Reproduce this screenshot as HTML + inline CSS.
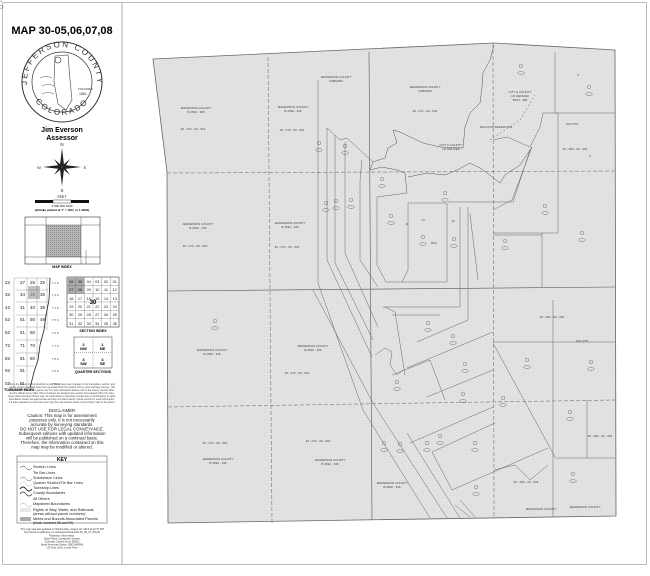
<!DOCTYPE html>
<html><head><meta charset="utf-8"><style>
html,body{margin:0;padding:0;background:#fff;}
body{width:650px;height:571px;overflow:hidden;font-family:"Liberation Sans",sans-serif;}
svg text{font-family:"Liberation Sans",sans-serif;}
</style></head><body>
<svg width="650" height="571" viewBox="0 0 650 571" xmlns="http://www.w3.org/2000/svg">
<defs>
<pattern id="g" width="3" height="3" patternUnits="userSpaceOnUse"><rect width="3" height="3" fill="#e3e3e3"/><path d="M0 0H3M0 0V3" stroke="#d6d6d6" stroke-width="0.4"/></pattern>
<pattern id="h" width="2" height="2" patternUnits="userSpaceOnUse"><rect width="2" height="2" fill="#b8b8b8"/><rect width="1" height="1" fill="#888"/></pattern>
</defs>
<rect x="2.5" y="2.5" width="644" height="562" fill="#fff" stroke="#bbb" stroke-width="1"/>
<line x1="122" y1="3" x2="122" y2="564" stroke="#999" stroke-width="0.8"/>

<!-- LEFT PANEL -->
<text x="62" y="34" font-size="11" font-weight="bold" text-anchor="middle">MAP 30-05,06,07,08</text>
<circle cx="62" cy="82" r="40" fill="#fff" stroke="#333" stroke-width="1"/>
<circle cx="62" cy="82" r="30" fill="#fff" stroke="#333" stroke-width="0.7"/>
<path id="arcT" d="M27,82 A35,35 0 0 1 97,82" fill="none"/>
<text font-size="8" letter-spacing="2" fill="#333"><textPath href="#arcT" startOffset="50%" text-anchor="middle">JEFFERSON COUNTY</textPath></text>
<path id="arcB" d="M30,90 A33,33 0 0 0 94,90" fill="none"/>
<text font-size="8" letter-spacing="2" fill="#333"><textPath href="#arcB" startOffset="50%" text-anchor="middle">COLORADO</textPath></text>
<path d="M55,56 L68,55 L70,80 L72,100 L66,110 L58,104 L54,82 Z" fill="none" stroke="#444" stroke-width="0.6"/>
<circle cx="58" cy="60" r="3" fill="none" stroke="#333" stroke-width="0.6"/>
<path d="M40,78 q6,-3 12,0 M42,86 q6,-3 12,0 M42,94 q6,-3 12,0" fill="none" stroke="#555" stroke-width="0.5"/>
<text x="78" y="90" font-size="3" fill="#333">FOUNDED</text>
<text x="79" y="95" font-size="3.5" fill="#333">1861</text>
<text x="62" y="132" font-size="7" font-weight="bold" text-anchor="middle">Jim Everson</text>
<text x="62" y="140" font-size="7" font-weight="bold" text-anchor="middle">Assessor</text>
<!-- compass -->
<g transform="translate(62,167)" fill="#222">
<polygon points="0,-19 2,-2 0,0 -2,-2"/><polygon points="0,19 2,2 0,0 -2,2"/>
<polygon points="-19,0 -2,2 0,0 -2,-2"/><polygon points="19,0 2,2 0,0 2,-2"/>
<polygon points="8,-8 1,-2 2,1" /><polygon points="-8,8 -1,2 -2,-1"/><polygon points="8,8 2,-1 1,2"/><polygon points="-8,-8 -2,1 -1,-2"/>
<text x="0" y="-21" font-size="4.5" text-anchor="middle">N</text><text x="0" y="25" font-size="4.5" text-anchor="middle">S</text>
<text x="-23" y="2" font-size="4" text-anchor="middle">W</text><text x="23" y="2" font-size="4" text-anchor="middle">E</text>
</g>
<text x="62" y="198" font-size="3.5" text-anchor="middle">FEET</text>
<rect x="35" y="200" width="18" height="3" fill="#111"/><rect x="53" y="200" width="18" height="3" fill="#fff" stroke="#111" stroke-width="0.4"/><rect x="71" y="200" width="18" height="3" fill="#111"/>
<text x="62" y="207" font-size="3" text-anchor="middle">0      600      900      1200</text>
<text x="62" y="211" font-size="3" font-weight="bold" text-anchor="middle">(initially plotted at 1" = 400', or 1:4800)</text>
<!-- map index -->
<rect x="25" y="217" width="75" height="47" fill="#fff" stroke="#333" stroke-width="0.6"/>
<rect x="46" y="225" width="35" height="32" fill="url(#h)"/>
<path d="M25,225H100M25,257H100M46,217V264M81,217V264M86,250V264" stroke="#333" stroke-width="0.4" fill="none"/>
<text x="62" y="268" font-size="3.5" font-weight="bold" text-anchor="middle">MAP INDEX</text>
<!-- township index -->
<g font-size="4.5" fill="#222">
<text x="5" y="284">22</text><text x="5" y="296">32</text><text x="5" y="309">42</text><text x="5" y="321">52</text><text x="5" y="334">62</text><text x="5" y="347">72</text><text x="5" y="360">82</text><text x="5" y="372">92</text><text x="5" y="385">02</text>
<text x="20" y="284">27</text><text x="20" y="296">34</text><text x="20" y="309">41</text><text x="20" y="321">51</text><text x="20" y="334">61</text><text x="20" y="347">71</text><text x="20" y="360">81</text><text x="20" y="372">91</text><text x="20" y="385">01</text>
<text x="30" y="284">26</text><text x="30" y="296">35</text><text x="30" y="309">40</text><text x="30" y="321">50</text><text x="30" y="334">60</text><text x="30" y="347">70</text><text x="30" y="360">80</text>
<text x="40" y="284">25</text><text x="40" y="296">36</text><text x="40" y="309">39</text><text x="40" y="321">49</text>
</g>
<rect x="28" y="286" width="12" height="13" fill="#999" opacity="0.6"/>
<g font-size="2.8" fill="#444"><text x="52" y="284">T 2 S</text><text x="52" y="296">T 3 S</text><text x="52" y="309">T 4 S</text><text x="52" y="321">T 5 S</text><text x="52" y="334">T 6 S</text><text x="52" y="347">T 7 S</text><text x="52" y="360">T 8 S</text><text x="52" y="372">T 9 S</text><text x="52" y="385">T10 S</text></g>
<path d="M14,278V388M14,278H50M16,290H48M16,302H48M16,315H48M16,327H46M16,340H42M16,353H40M16,366H34M27,278V388M37,278V360M47,278V330" stroke="#666" stroke-width="0.3" fill="none"/>
<path d="M50,278 L49,300 L46,315 L44,330 L40,345 L38,360 L34,372 L30,388" stroke="#222" stroke-width="0.8" fill="none"/>
<text x="4" y="391" font-size="3.5" font-weight="bold">TOWNSHIP INDEX</text>
<!-- section index -->
<rect x="67" y="277" width="52" height="50" fill="#fff" stroke="#333" stroke-width="0.6"/>
<rect x="67" y="277" width="17.3" height="16.6" fill="#aaa"/>
<g stroke="#555" stroke-width="0.3"><path d="M75.7,277V327M84.3,277V327M93,277V327M101.7,277V327M110.3,277V327M67,285.3H119M67,293.7H119M67,302H119M67,310.3H119M67,318.7H119"/></g>
<g font-size="3.8" text-anchor="middle" fill="#222">
<text x="71.3" y="283">06</text><text x="80" y="283">05</text><text x="88.7" y="283">04</text><text x="97.3" y="283">03</text><text x="106" y="283">02</text><text x="114.7" y="283">01</text>
<text x="71.3" y="291">07</text><text x="80" y="291">08</text><text x="88.7" y="291">09</text><text x="97.3" y="291">10</text><text x="106" y="291">11</text><text x="114.7" y="291">12</text>
<text x="71.3" y="300">18</text><text x="80" y="300">17</text><text x="88.7" y="300">16</text><text x="97.3" y="300">15</text><text x="106" y="300">14</text><text x="114.7" y="300">13</text>
<text x="71.3" y="308">19</text><text x="80" y="308">20</text><text x="88.7" y="308">21</text><text x="97.3" y="308">22</text><text x="106" y="308">23</text><text x="114.7" y="308">24</text>
<text x="71.3" y="316">30</text><text x="80" y="316">29</text><text x="88.7" y="316">28</text><text x="97.3" y="316">27</text><text x="106" y="316">26</text><text x="114.7" y="316">25</text>
<text x="71.3" y="325">31</text><text x="80" y="325">32</text><text x="88.7" y="325">33</text><text x="97.3" y="325">34</text><text x="106" y="325">35</text><text x="114.7" y="325">36</text>
</g>
<text x="93" y="304" font-size="6" font-weight="bold" text-anchor="middle">30</text>
<text x="93" y="332" font-size="3.5" font-weight="bold" text-anchor="middle">SECTION INDEX</text>
<!-- quarter sections -->
<rect x="74" y="337" width="38" height="31" fill="#fff" stroke="#333" stroke-width="0.5"/>
<path d="M93,337V368M74,352.5H112" stroke="#333" stroke-width="0.4" stroke-dasharray="1,1"/>
<g font-size="4" text-anchor="middle" font-weight="bold"><text x="83.5" y="346">2</text><text x="83.5" y="350">NW</text><text x="102.5" y="346">1</text><text x="102.5" y="350">NE</text><text x="83.5" y="361">3</text><text x="83.5" y="365">SW</text><text x="102.5" y="361">4</text><text x="102.5" y="365">SE</text></g>
<text x="93" y="373" font-size="3.5" font-weight="bold" text-anchor="middle">QUARTER SECTIONS</text>
<g font-size="2.4" fill="#444" text-anchor="middle">
<text x="62" y="385">Since the date of original township survey, there have been changes to the boundaries, section, and</text>
<text x="62" y="388">quarter section lines that have been generated from the original survey notes and later surveys. This</text>
<text x="62" y="391">map should be used as a guide only. For more information please refer to the County records office</text>
<text x="62" y="394">and the official survey plats. Parcel numbers are assigned per section and mapped within the index.</text>
<text x="62" y="397">Some parcel numbers shown may not match those on assessor records due to combinations or splits.</text>
<text x="62" y="400">Boundaries shown are approximate and may not reflect deeds. Check records for exact information.</text>
<text x="62" y="403">If a parcel appears on more than one map, the map number shown is the primary map for the parcel.</text>
</g>
<g font-size="4.3" fill="#222" text-anchor="middle">
<text x="62" y="412">DISCLAIMER</text>
<text x="62" y="417">Caution: This map is for assessment</text>
<text x="62" y="421.5">purposes only. It is not necessarily</text>
<text x="62" y="426">accurate by surveying standards.</text>
<text x="62" y="430.5">DO NOT USE FOR LEGAL CONVEYANCE.</text>
<text x="62" y="435">Subsequent editions with updated information</text>
<text x="62" y="439.5">will be published on a continual basis.</text>
<text x="62" y="444">Therefore, the information contained on this</text>
<text x="62" y="448.5">map may be modified or altered.</text>
</g>
<rect x="17" y="456" width="90" height="67" fill="#fff" stroke="#444" stroke-width="0.5"/>
<line x1="17" y1="462" x2="107" y2="462" stroke="#444" stroke-width="0.4"/>
<text x="62" y="461" font-size="5" font-weight="bold" text-anchor="middle">KEY</text>
<g font-size="3.8" fill="#222">
<text x="33" y="468">Section Lines</text><text x="33" y="474">Tie Bar Lines</text><text x="33" y="479">Subdivision Lines</text><text x="33" y="484">Quarter Section/Tie Bar Lines</text><text x="33" y="489">Township Lines</text><text x="33" y="494">County Boundaries</text><text x="33" y="500">All Others</text><text x="33" y="505">Mapsheet Boundaries</text><text x="33" y="511">Rights of Way, Water, and Railroads</text><text x="33" y="515">(areas without parcel numbers)</text><text x="33" y="520">Metes and Bounds Associated Parcels</text><text x="33" y="524" font-size="3.4">(block numbers 88 and 99)</text>
</g>
<g fill="none" stroke="#333">
<path d="M20,468 q3,-4 6,0 t6,0" stroke-width="0.5"/><path d="M20,479 q3,-4 6,0 t6,0" stroke-width="0.4"/><path d="M20,484 q3,-4 6,0 t6,0" stroke-width="0.3" stroke="#888"/><path d="M20,489 q3,-4 6,0 t6,0" stroke-width="1"/><path d="M20,494 q3,-4 6,0 t6,0" stroke-width="0.7"/><path d="M20,505 q3,-4 6,0 t6,0" stroke-width="0.4" stroke="#888"/>
</g>
<rect x="20" y="508" width="11" height="4" fill="#e8e8e8"/><rect x="20" y="517" width="11" height="4" fill="#aaa"/>
<g font-size="2.6" fill="#333" text-anchor="middle">
<text x="62" y="530">This map was last updated on Wednesday, August 22, 2012 at 02:37 PM</text>
<text x="62" y="533">http://www.co.jefferson.co.us/assessor/maps/30-05_06_07_08.pdf</text>
<text x="62" y="536.5">Projection Information:</text>
<text x="62" y="539.5">State Plane Coordinate System</text>
<text x="62" y="542.5">Colorado Central Zone (0502)</text>
<text x="62" y="545.5">North American Datum 1983 (HARN)</text>
<text x="62" y="548.5">US Foot Units, Linear Feet</text>
</g>

<!-- MAP -->
<path d="M153,59 L494,43 L615,50 L616,516 L168,523 L167,172 Z" fill="url(#g)" stroke="#666" stroke-width="0.8"/>
<g fill="none" stroke="#777" stroke-width="0.6">
<path d="M167,173 L615,171" stroke-dasharray="4,2"/>
<path d="M168,291 L615,287" stroke="#555"/>
<path d="M168,407 L616,400" stroke-dasharray="4,2"/>
<path d="M268,57 L272,523" stroke-dasharray="4,2"/>
<path d="M369,52 L372,520" stroke="#555"/>
<path d="M493,44 L494,517" stroke-dasharray="4,2"/>
</g>
<g fill="none" stroke="#666" stroke-width="0.5">
<!-- right boxes -->
<path d="M555,52 V113 H615"/><path d="M558,113 V233 H493"/><path d="M542,233 V287"/>
<path d="M493,235 H542"/>
<!-- strips -->
<path d="M318,80 V283 L363,410 L430,518"/>
<path d="M327,128 V260 L372,357"/>
<path d="M335,135 V263 L373,340"/>
<path d="M345,142 V253 L378,327"/>
<path d="M360,180 V260 L378,287"/>
<path d="M313,290 L373,403 L447,518"/>
<path d="M407,433 L460,518"/>
<!-- parcels -->
<path d="M407,193 L377,197 V265 L386,282 H447"/>
<path d="M408,203 H447 V282 M402,282 L408,270 L408,203"/>
<path d="M448,202 H513 L530,150"/>
<path d="M460,207 V307 H383"/>
<path d="M468,207 V320 L417,342"/>
<path d="M470,214 L478,280"/>
<path d="M385,307 L395,312 L405,375 M392,315 H440"/>
<path d="M407,368 L493,332"/><path d="M427,397 L493,370"/>
<path d="M392,375 L430,360 L445,400"/>
<path d="M410,443 L493,407"/><path d="M432,452 L495,423"/><path d="M452,490 L548,448"/>
<path d="M432,452 L452,490"/>
<path d="M493,343 L555,457"/><path d="M553,342 V516"/><path d="M493,342 H615"/>
<path d="M587,400 V458 M555,458 H615"/>
<path d="M494,470 L515,465 L530,480 L548,465"/>
<path d="M455,505 L470,517 M460,500 L475,517"/>
<path d="M532,147 L512,200 L493,210"/>
<path d="M553,300 V342"/>
<!-- shoreline -->
<path d="M494,45 L490,60 L483,73 L482,87 L480,103 L470,113 L465,127 L463,148 L440,147 L423,143 L400,132 L393,130 L397,143 L388,148 L385,158 L373,162 L370,170 L382,167 L397,170 L405,173 L407,193" stroke="#555"/>
<path d="M408,177 L427,173 L445,175 L457,170 L470,163 L480,168 L487,173 L500,183 L505,175 L520,165 L532,147" stroke="#555"/>
<path d="M327,128 L340,140 L347,138 L362,152 L373,162 M362,160 L360,180"/>
<path d="M493,140 L507,137 L530,147 L540,127 L543,113 L558,113"/>
<path d="M490,140 L520,120 L535,95" stroke-dasharray="2,2"/>
<path d="M375,355 L385,348 L392,352 L390,365 L397,375 L403,370"/>
</g>
<!-- markers -->
<g fill="none" stroke="#555" stroke-width="0.4">
<g id="m"><circle cx="0" cy="0" r="1.8"/><ellipse cx="0" cy="7" rx="3.3" ry="1.5"/></g>
<use href="#m" x="521" y="66"/><use href="#m" x="589" y="87"/><use href="#m" x="319" y="143"/><use href="#m" x="345" y="146"/>
<use href="#m" x="382" y="179"/><use href="#m" x="326" y="203"/><use href="#m" x="336" y="201"/><use href="#m" x="351" y="200"/>
<use href="#m" x="391" y="216"/><use href="#m" x="423" y="237"/><use href="#m" x="454" y="239"/><use href="#m" x="505" y="241"/>
<use href="#m" x="545" y="206"/><use href="#m" x="582" y="233"/><use href="#m" x="445" y="193"/><use href="#m" x="215" y="321"/>
<use href="#m" x="428" y="323"/><use href="#m" x="453" y="336"/><use href="#m" x="397" y="382"/><use href="#m" x="465" y="364"/>
<use href="#m" x="463" y="394"/><use href="#m" x="440" y="436"/><use href="#m" x="427" y="443"/><use href="#m" x="384" y="443"/>
<use href="#m" x="400" y="444"/><use href="#m" x="475" y="443"/><use href="#m" x="527" y="360"/><use href="#m" x="570" y="412"/>
<use href="#m" x="591" y="362"/><use href="#m" x="573" y="474"/><use href="#m" x="476" y="487"/><use href="#m" x="503" y="398"/>
</g>
<g font-size="3" fill="#444" text-anchor="middle">
<text x="196" y="109">JEFFERSON COUNTY</text><text x="196" y="113">B 2692 - 336</text><text x="193" y="130">36 - 072 - 00 - 001</text>
<text x="293" y="108">JEFFERSON COUNTY</text><text x="293" y="112">B 2692 - 336</text><text x="292" y="131">36 - 072 - 00 - 001</text>
<text x="336" y="78">JEFFERSON COUNTY</text><text x="336" y="82">F0802000</text>
<text x="425" y="88">JEFFERSON COUNTY</text><text x="425" y="92">F0802000</text><text x="425" y="112">30 - 071 - 00 - 002</text>
<text x="520" y="93">CITY &amp; COUNTY</text><text x="520" y="97">OF DENVER</text><text x="520" y="101">B404 - 300</text>
<text x="496" y="128">RALSTON     RESERVOIR</text>
<text x="198" y="225">JEFFERSON COUNTY</text><text x="198" y="229">B 2692 - 336</text><text x="195" y="247">36 - 072 - 00 - 001</text>
<text x="290" y="224">JEFFERSON COUNTY</text><text x="290" y="228">B 2692 - 336</text><text x="287" y="248">36 - 072 - 00 - 001</text>
<text x="212" y="351">JEFFERSON COUNTY</text><text x="212" y="355">B 2692 - 336</text>
<text x="313" y="347">JEFFERSON COUNTY</text><text x="313" y="351">B 2692 - 336</text><text x="297" y="374">36 - 072 - 00 - 001</text>
<text x="215" y="444">36 - 072 - 00 - 001</text><text x="218" y="460">JEFFERSON COUNTY</text><text x="218" y="464">B 2692 - 336</text>
<text x="318" y="442">36 - 072 - 00 - 001</text><text x="330" y="461">JEFFERSON COUNTY</text><text x="330" y="465">B 2692 - 336</text>
<text x="392" y="484">JEFFERSON COUNTY</text><text x="392" y="488">B 2692 - 336</text>
<text x="451" y="146">CITY &amp; COUNTY</text><text x="451" y="150">OF DENVER</text>
<text x="552" y="318">30 - 284 - 00 - 002</text><text x="572" y="125">SOL PTS</text><text x="575" y="150">30 - 084 - 00 - 002</text>
<text x="600" y="437">30 - 081 - 00 - 001</text><text x="526" y="483">30 - 284 - 00 - 003</text>
<text x="585" y="508">JEFFERSON COUNTY</text><text x="541" y="510">JEFFERSON COUNTY</text>
<text x="407" y="225">11</text><text x="423" y="221">14</text><text x="453" y="222">13</text><text x="434" y="244">RKA</text>
<text x="578" y="76">3</text><text x="590" y="157">4</text><text x="582" y="342">SOL PTS</text>
</g>
</svg>
</body></html>
